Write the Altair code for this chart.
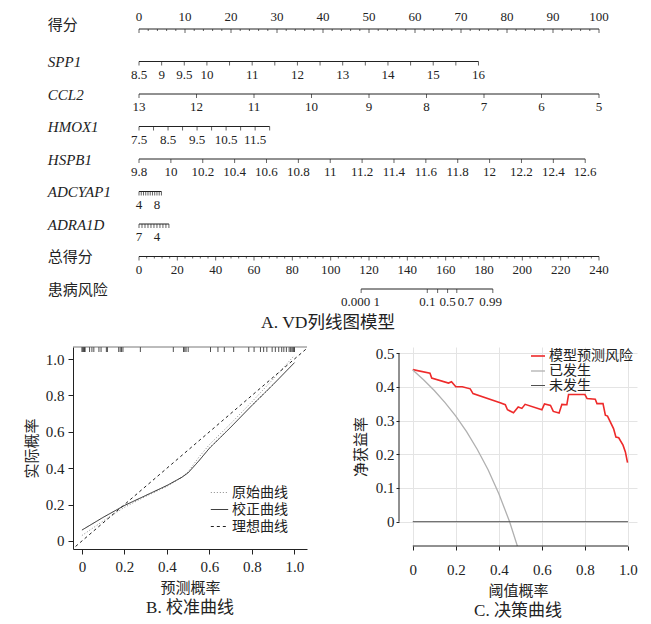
import altair as alt
import pandas as pd

FONT = "Liberation Serif, Noto Sans CJK SC, serif"
INK = "#222222"

# ================= A. nomogram data =================
rows = ["得分", "SPP1", "CCL2", "HMOX1", "HSPB1", "ADCYAP1", "ADRA1D", "总得分", "患病风险"]

score_labels = [0, 10, 20, 30, 40, 50, 60, 70, 80, 90, 100]
score_minor = [v for v in range(0, 101, 2) if v % 10]

spp1_scale = (8.5, 16.0, 0.0, 73.8)
spp1_ticks = [8.5, 9, 9.5, 10, 10.5, 11, 11.5, 12, 12.5, 13, 13.5, 14, 14.5, 15, 15.5, 16]
spp1_labels = ["8.5", "9", "9.5", "10", "11", "12", "13", "14", "15", "16"]

ccl2_scale = (13.0, 5.0, 0.0, 100.0)
ccl2_ticks = [13, 12, 11, 10, 9, 8, 7, 6, 5]
ccl2_labels = ["13", "12", "11", "10", "9", "8", "7", "6", "5"]

hmox1_scale = (7.5, 12.0, 0.0, 28.4)
hmox1_ticks = [7.5, 8, 8.5, 9, 9.5, 10, 10.5, 11, 11.5, 12]
hmox1_labels = ["7.5", "8.5", "9.5", "10.5", "11.5"]

hspb1_scale = (9.8, 12.6, 0.0, 97.0)
hspb1_ticks = [9.8, 10, 10.2, 10.4, 10.6, 10.8, 11, 11.2, 11.4, 11.6, 11.8, 12, 12.2, 12.4, 12.6]
hspb1_labels = ["9.8", "10", "10.2", "10.4", "10.6", "10.8", "11", "11.2", "11.4",
                "11.6", "11.8", "12", "12.2", "12.4", "12.6"]

adcyap1_scale = (4.0, 8.0, 0.0, 3.9)
adcyap1_ticks = [4, 4.5, 5, 5.5, 6, 6.5, 7, 7.5, 8, 8.5, 9]
adcyap1_labels = ["4", "8"]

adra1d_scale = (7.0, 4.0, 0.0, 3.9)
adra1d_ticks = [7, 6.5, 6, 5.5, 5, 4.5, 4, 3.5, 3, 2.5, 2]
adra1d_labels = ["7", "4"]

total_scale = (0.0, 240.0, 0.0, 100.0)
total_labels = [0, 20, 40, 60, 80, 100, 120, 140, 160, 180, 200, 220, 240]
total_minor = [v for v in range(0, 241, 4) if v % 20]

risk_tick_total = [115.9, 150.4, 155.8, 161.0, 165.8, 184.6]
risk_labels = ["0.000 1", "0.1", "0.5", "0.7", "0.99"]
risk_label_total = [115.6, 150.4, 161.0, 170.5, 183.5]


def to_pts(v, sc):
    v0, v1, p0, p1 = sc
    return p0 + (float(v) - v0) * (p1 - p0) / (v1 - v0)


tick_rows, label_rows, line_rows = [], [], []


def add_var(name, sc, ticks, labels, side="below"):
    pts = [to_pts(t, sc) for t in ticks]
    line_rows.append({"row": name, "pts": min(pts), "pts_end": max(pts)})
    for p in pts:
        tick_rows.append({"row": name, "pts": p, "kind": "major"})
    for lab in labels:
        label_rows.append({"row": name, "pts": to_pts(lab, sc), "text": lab, "side": side})


add_var("得分", (0, 100, 0, 100), score_labels, [str(v) for v in score_labels], side="above")
for v in score_minor:
    tick_rows.append({"row": "得分", "pts": float(v), "kind": "minor"})
add_var("SPP1", spp1_scale, spp1_ticks, spp1_labels)
add_var("CCL2", ccl2_scale, ccl2_ticks, ccl2_labels)
add_var("HMOX1", hmox1_scale, hmox1_ticks, hmox1_labels)
add_var("HSPB1", hspb1_scale, hspb1_ticks, hspb1_labels)
add_var("ADCYAP1", adcyap1_scale, adcyap1_ticks, adcyap1_labels)
add_var("ADRA1D", adra1d_scale, adra1d_ticks, adra1d_labels)
add_var("总得分", total_scale, total_labels, [str(v) for v in total_labels])
for v in total_minor:
    tick_rows.append({"row": "总得分", "pts": to_pts(v, total_scale), "kind": "minor"})
risk_pts = [to_pts(v, total_scale) for v in risk_tick_total]
line_rows.append({"row": "患病风险", "pts": min(risk_pts), "pts_end": max(risk_pts)})
for p in risk_pts:
    tick_rows.append({"row": "患病风险", "pts": p, "kind": "major"})
for lab, tp in zip(risk_labels, risk_label_total):
    label_rows.append({"row": "患病风险", "pts": to_pts(tp, total_scale), "text": lab, "side": "below"})

ticks_df = pd.DataFrame(tick_rows)
labels_df = pd.DataFrame(label_rows)
lines_df = pd.DataFrame(line_rows)

# ================= B. calibration data =================
cal_pred = [0.0, 0.1, 0.2, 0.3, 0.4, 0.47, 0.5, 0.55, 0.6, 0.7, 0.8, 0.9, 1.0]
cal_apparent = [0.03, 0.11, 0.185, 0.245, 0.30, 0.35, 0.38, 0.46, 0.53, 0.645, 0.765, 0.89, 1.02]
cal_corrected = [0.06, 0.13, 0.195, 0.25, 0.305, 0.35, 0.375, 0.44, 0.51, 0.625, 0.745, 0.86, 0.98]
ideal_x = [-0.03, 1.06]
ideal_y = [-0.03, 1.06]
cal_names = ["原始曲线", "校正曲线", "理想曲线"]
rug_pred = [0.0, 0.004, 0.008, 0.012, 0.015, 0.036, 0.047, 0.056, 0.08, 0.09, 0.115, 0.12,
            0.173, 0.18, 0.186, 0.193, 0.275, 0.43, 0.478, 0.484, 0.49, 0.5, 0.605, 0.64,
            0.67, 0.714, 0.785, 0.81, 0.84, 0.855, 0.87, 0.895, 0.91, 0.926, 0.94, 0.95,
            0.962, 0.975, 0.982, 0.988, 0.993, 0.997, 1.0]

# ================= C. decision curve data =================
dca_t = [0, 0.08, 0.088, 0.166, 0.18, 0.2, 0.23, 0.267, 0.28, 0.406, 0.43, 0.44, 0.468,
         0.49, 0.507, 0.522, 0.6, 0.612, 0.64, 0.653, 0.68, 0.693, 0.716, 0.724, 0.80,
         0.81, 0.848, 0.856, 0.884, 0.895, 0.905, 0.933, 0.944, 0.957, 0.977, 0.988, 0.998]
dca_model = [0.451, 0.440, 0.426, 0.411, 0.415, 0.40, 0.40, 0.394, 0.38, 0.353, 0.347,
             0.332, 0.323, 0.34, 0.336, 0.348, 0.332, 0.349, 0.345, 0.327, 0.322, 0.348,
             0.347, 0.377, 0.377, 0.365, 0.363, 0.350, 0.350, 0.316, 0.313, 0.276, 0.251,
             0.249, 0.227, 0.207, 0.175]
all_t = [0, 0.05, 0.1, 0.15, 0.2, 0.25, 0.3, 0.35, 0.4, 0.45, 0.49]
all_nb = [0.45, 0.421, 0.389, 0.353, 0.313, 0.267, 0.214, 0.154, 0.083, 0.0, -0.08]
none_t = [0.0, 1.0]
none_nb = [0.0, 0.0]
dca_names = ["模型预测风险", "已发生", "未发生"]

# ================= A. nomogram chart =================
nomo_xscale = alt.Scale(domain=[-14.35, 100], nice=False, zero=False)
cn_test = "datum.value == '得分' || datum.value == '总得分' || datum.value == '患病风险'"
row_axis = alt.Axis(
    title=None, domain=False, ticks=False, grid=False, labelAlign="left", labelPadding=25.7,
    labelFont=FONT, labelFontSize=15, labelColor=INK, labelOverlap=False,
    labelFontStyle={"condition": {"test": cn_test, "value": "normal"}, "value": "italic"},
    labelBaseline={"condition": {"test": "datum.value == '得分'", "value": "alphabetic"}, "value": "middle"},
)
ny = alt.Y("row:N", sort=rows, scale=alt.Scale(type="point", domain=rows, padding=0), axis=row_axis)
nx = alt.X("pts:Q", scale=nomo_xscale, axis=None)

n_lines = alt.Chart(lines_df).mark_rule(color=INK, strokeWidth=1).encode(
    x=nx, x2="pts_end:Q", y=ny)
n_major = alt.Chart(ticks_df).transform_filter("datum.kind == 'major'").mark_tick(
    color=INK, thickness=1, size=4, yOffset=2).encode(x=nx, y=ny)
n_minor = alt.Chart(ticks_df).transform_filter("datum.kind == 'minor'").mark_tick(
    color=INK, thickness=1, size=2, yOffset=1).encode(x=nx, y=ny)
n_lab_below = alt.Chart(labels_df).transform_filter("datum.side == 'below'").mark_text(
    font=FONT, fontSize=13, color=INK, dy=13, baseline="middle").encode(x=nx, y=ny, text="text:N")
n_lab_above = alt.Chart(labels_df).transform_filter("datum.side == 'above'").mark_text(
    font=FONT, fontSize=13, color=INK, dy=-12.5, baseline="middle").encode(x=nx, y=ny, text="text:N")

nomogram = alt.layer(n_lines, n_major, n_minor, n_lab_below, n_lab_above).properties(
    width=526, height=260,
    title=alt.TitleParams("A. VD列线图模型", orient="bottom", anchor="middle", frame="bounds",
                          font=FONT, fontSize=17.5, fontWeight="normal", color=INK, offset=5),
)

# ================= B. calibration chart =================
tick_vals = [0, 0.2, 0.4, 0.6, 0.8, 1.0]
lab_expr = "datum.value == 0 ? '0' : format(datum.value, '.1f')"
cal_xs = alt.Scale(domain=[-0.042, 1.059], nice=False, zero=False)
cal_ys = alt.Scale(domain=[-0.044, 1.066], nice=False, zero=False)
axis_common = dict(labelFont=FONT, labelFontSize=15, labelColor=INK, titleFont=FONT,
                   titleFontSize=15, titleFontWeight="normal", titleColor=INK,
                   domainColor=INK, tickColor=INK, labelOverlap=False)
cal_xaxis = alt.Axis(values=tick_vals, labelExpr=lab_expr, title="预测概率", tickSize=5,
                     labelPadding=5, titlePadding=6, grid=False, domain=True, **axis_common)
cal_yaxis = alt.Axis(values=tick_vals, labelExpr=lab_expr, title="实际概率", tickSize=5,
                     labelPadding=4, titlePadding=6, labelAngle=0, grid=False, domain=True,
                     **axis_common)

cal_df = pd.DataFrame({
    "x": cal_pred + cal_pred + ideal_x,
    "y": cal_apparent + cal_corrected + ideal_y,
    "curve": [cal_names[0]] * len(cal_pred) + [cal_names[1]] * len(cal_pred) + [cal_names[2]] * 2,
})
cal_legend = alt.Legend(title=None, orient="none", legendX=137, legendY=136, symbolType="stroke",
                        symbolSize=300, symbolStrokeWidth=1, labelFont=FONT, labelFontSize=14,
                        labelColor=INK, rowPadding=0, padding=0, labelOffset=3)
cx = alt.X("x:Q", scale=cal_xs, axis=cal_xaxis)
cy = alt.Y("y:Q", scale=cal_ys, axis=cal_yaxis)
cal_lines = alt.Chart(cal_df).mark_line(strokeWidth=1, clip=True).encode(
    x=cx, y=cy,
    color=alt.Color("curve:N", scale=alt.Scale(domain=cal_names, range=["#8a8a8a", INK, INK]),
                    legend=cal_legend),
    strokeDash=alt.StrokeDash("curve:N", scale=alt.Scale(domain=cal_names, range=[[1, 2], [1, 0], [3, 3]]),
                              legend=cal_legend),
)
rug = alt.Chart(pd.DataFrame({"x": rug_pred})).mark_rule(color=INK, strokeWidth=0.8).encode(
    x=cx, y=alt.value(0), y2=alt.value(5))
top_line = alt.Chart(pd.DataFrame({"x": [cal_xs.domain[0]], "x_end": [cal_xs.domain[1]]})).mark_rule(
    color="#555555", strokeWidth=0.8).encode(x=cx, x2="x_end:Q", y=alt.value(0))

calib = alt.layer(cal_lines, rug, top_line).properties(
    width=234, height=202,
    title=alt.TitleParams("B. 校准曲线", orient="bottom", anchor="middle", frame="group",
                          font=FONT, fontSize=17, fontWeight="normal", color=INK, offset=5),
)

# ================= C. decision curve chart =================
dca_xdom = [-0.064, 1.042]
dca_ydom = [-0.072, 0.518]
dca_xs = alt.Scale(domain=dca_xdom, nice=False, zero=False)
dca_ys = alt.Scale(domain=dca_ydom, nice=False, zero=False)
grid_common = dict(grid=True, gridColor="#e4e4e4", gridWidth=1, domain=False)
dca_xaxis = alt.Axis(values=tick_vals, labelExpr=lab_expr, title="阈值概率", tickSize=4,
                     labelPadding=12, titlePadding=6, **grid_common, **axis_common)
dca_yaxis = alt.Axis(values=[0, 0.1, 0.2, 0.3, 0.4, 0.5], labelExpr=lab_expr, title="净获益率",
                     tickSize=3, labelPadding=2, titlePadding=7, labelAngle=0,
                     **grid_common, **axis_common)
dx = alt.X("t:Q", scale=dca_xs, axis=dca_xaxis)
dy = alt.Y("nb:Q", scale=dca_ys, axis=dca_yaxis)

dca_df = pd.DataFrame({
    "t": dca_t + all_t + none_t,
    "nb": dca_model + all_nb + none_nb,
    "strategy": [dca_names[0]] * len(dca_t) + [dca_names[1]] * len(all_t) + [dca_names[2]] * 2,
})
dca_legend = alt.Legend(title=None, orient="none", legendX=131, legendY=1, symbolType="stroke",
                        symbolSize=196, symbolStrokeWidth=1.5, labelFont=FONT, labelFontSize=14,
                        labelColor=INK, rowPadding=0, padding=0, labelOffset=3)
dca_lines = alt.Chart(dca_df).mark_line(clip=True).encode(
    x=dx, y=dy,
    color=alt.Color("strategy:N", scale=alt.Scale(domain=dca_names, range=["#ee2a2a", "#b0b0b0", "#505050"]),
                    legend=dca_legend),
    strokeWidth=alt.StrokeWidth("strategy:N", scale=alt.Scale(domain=dca_names, range=[1.6, 1, 1]),
                                legend=None),
)
# R-style axis lines that only span the tick range
x_axis_line = alt.Chart(pd.DataFrame({"t": [tick_vals[0]], "t_end": [tick_vals[-1]],
                                      "nb": [dca_ydom[0]]})).mark_rule(
    color=INK, strokeWidth=1).encode(x=dx, x2="t_end:Q", y=dy)
y_axis_line = alt.Chart(pd.DataFrame({"nb": [0.0], "nb_end": [0.5],
                                      "t": [dca_xdom[0]]})).mark_rule(
    color=INK, strokeWidth=1).encode(y=dy, y2="nb_end:Q", x=dx)

dca = alt.layer(dca_lines, x_axis_line, y_axis_line).properties(
    width=238, height=199,
    title=alt.TitleParams("C. 决策曲线", orient="bottom", anchor="middle", frame="group",
                          font=FONT, fontSize=17, fontWeight="normal", color=INK, offset=5),
)

bottom = alt.hconcat(calib, dca, spacing=45).resolve_scale(
    x="independent", y="independent", color="independent", strokeDash="independent",
    strokeWidth="independent")

chart = alt.vconcat(nomogram, bottom, spacing=14).resolve_scale(
    x="independent", y="independent").properties(
    padding={"left": 16, "top": 2, "right": 0, "bottom": 0},
    background="white",
).configure_view(stroke=None, strokeWidth=0).configure_axis(
    domain=False, grid=False
)

chart.save("out.html", embed_options={"renderer": "svg", "actions": False})
